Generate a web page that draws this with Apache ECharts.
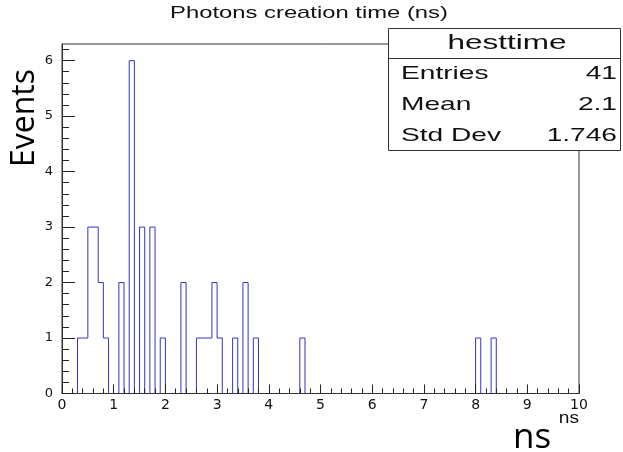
<!DOCTYPE html>
<html>
<head>
<meta charset="utf-8">
<title>Photons creation time (ns)</title>
<script src="https://cdn.jsdelivr.net/npm/echarts/dist/echarts.min.js"></script>
<style>
  html, body { margin: 0; padding: 0; background: #ffffff; }
  #chart { width: 623px; height: 452px; }
</style>
</head>
<body>
<div id="chart"></div>
<script>
// Histogram "hesttime": 100 bins of 0.1 ns between 0 and 10 ns.
const binWidth = 0.1;
const binCountTotal = 100;
// Lower edges of the non-empty bins and their contents
const filledBinStarts = [0.3, 0.4, 0.5, 0.6, 0.7, 0.8, 1.1, 1.3, 1.5, 1.7, 1.9,
                         2.3, 2.6, 2.7, 2.8, 2.9, 3.0, 3.3, 3.5, 3.7, 4.6, 8.0, 8.3];
const filledBinCounts = [1, 1, 3, 3, 2, 1, 2, 6, 3, 3, 1,
                         2, 1, 1, 1, 2, 1, 1, 2, 1, 1, 1, 1];

const yMajorTicks = [0, 1, 2, 3, 4, 5, 6];
const yMinorTicks = [0.2, 0.4, 0.6, 0.8, 1.2, 1.4, 1.6, 1.8, 2.2, 2.4, 2.6, 2.8,
                     3.2, 3.4, 3.6, 3.8, 4.2, 4.4, 4.6, 4.8, 5.2, 5.4, 5.6, 5.8, 6.2];

const statsTitle = 'hesttime';
const statsLabels = ['Entries', 'Mean', 'Std Dev'];
const statsValues = ['41', '2.1', '1.746'];

// Full bin contents (empty bins are zero)
const counts = new Array(binCountTotal).fill(0);
filledBinStarts.forEach(function (start, i) {
  counts[Math.round(start / binWidth)] = filledBinCounts[i];
});

// Step outline of the histogram: each bin contributes its two top corners
const outline = [];
counts.forEach(function (c, i) {
  const lo = +(i * binWidth).toFixed(1);
  const hi = +((i + 1) * binWidth).toFixed(1);
  outline.push([lo, c], [hi, c]);
});

const rootFont = '"Liberation Sans", Arial, Helvetica, sans-serif';
const axisColor = '#333333';

const chart = echarts.init(document.getElementById('chart'), null, { renderer: 'canvas' });

const statRowCenters = [74, 105, 135.5];
const statGraphics = [];
statsLabels.forEach(function (label, i) {
  statGraphics.push({
    type: 'text', x: 401, y: statRowCenters[i], scaleX: 1.48, z: 101,
    style: { text: label, font: '19px ' + rootFont, fill: '#111', align: 'left', verticalAlign: 'middle' }
  });
  statGraphics.push({
    type: 'text', x: 617, y: statRowCenters[i], scaleX: 1.48, z: 101,
    style: { text: statsValues[i], font: '19px ' + rootFont, fill: '#111', align: 'right', verticalAlign: 'middle' }
  });
});

chart.setOption({
  animation: false,
  backgroundColor: '#ffffff',
  grid: {
    left: 62, right: 44, top: 44, bottom: 58.5,
    show: true, borderColor: axisColor, borderWidth: 1
  },
  xAxis: {
    type: 'value', min: 0, max: 10, interval: 1, z: 3,
    axisLine: { show: true, onZero: false, lineStyle: { color: axisColor, width: 1 } },
    axisTick: { show: true, inside: true, length: 9, lineStyle: { color: '#222' } },
    minorTick: { show: true, splitNumber: 5, length: 5, lineStyle: { color: '#222' } },
    axisLabel: { margin: 5, fontFamily: 'DejaVu Sans', fontSize: 14, color: '#111' },
    splitLine: { show: false }
  },
  yAxis: [
    {
      type: 'value', min: 0, max: 6.3, z: 3,
      axisLine: { show: true, lineStyle: { color: axisColor, width: 1 } },
      axisTick: { show: true, inside: true, length: 13, customValues: yMajorTicks, lineStyle: { color: '#222' } },
      axisLabel: { margin: 9, customValues: yMajorTicks, fontFamily: 'DejaVu Sans', fontSize: 13, color: '#111' },
      splitLine: { show: false }
    },
    {
      type: 'value', min: 0, max: 6.3, position: 'left', offset: 0, z: 3,
      axisLine: { show: false },
      axisTick: { show: true, inside: true, length: 7, customValues: yMinorTicks, lineStyle: { color: '#222' } },
      axisLabel: { show: false },
      splitLine: { show: false }
    }
  ],
  series: [{
    type: 'line',
    data: outline,
    yAxisIndex: 0,
    symbol: 'none',
    z: 2,
    lineStyle: { color: '#3232c8', width: 1 }
  }],
  graphic: [
    {
      type: 'text', x: 309, y: 13, scaleX: 1.4,
      style: { text: 'Photons creation time (ns)', font: '17px ' + rootFont, fill: '#111', align: 'center', verticalAlign: 'middle' }
    },
    {
      type: 'rect', z: 100,
      shape: { x: 388.5, y: 28.5, width: 232, height: 122 },
      style: { fill: '#ffffff', stroke: '#333333', lineWidth: 1 }
    },
    {
      type: 'line', z: 101,
      shape: { x1: 388.5, y1: 58.5, x2: 620.5, y2: 58.5 },
      style: { stroke: '#333333', lineWidth: 1 }
    },
    {
      type: 'text', x: 507, y: 43.5, scaleX: 1.5, z: 101,
      style: { text: statsTitle, font: '21px ' + rootFont, fill: '#111', align: 'center', verticalAlign: 'middle' }
    }
  ].concat(statGraphics).concat([
    {
      type: 'text', x: 579, y: 419, scaleX: 1.2,
      style: { text: 'ns', font: '16px ' + rootFont, fill: '#111', align: 'right', verticalAlign: 'middle' }
    },
    {
      type: 'text', x: 25, y: 118, rotation: Math.PI / 2,
      style: { text: 'Events', font: '32px "Open Sans", sans-serif', fill: '#000', align: 'center', verticalAlign: 'middle' }
    },
    {
      type: 'text', x: 532, y: 438,
      style: { text: 'ns', font: '35px "Open Sans", sans-serif', fill: '#000', align: 'center', verticalAlign: 'middle' }
    }
  ])
});
</script>
</body>
</html>
